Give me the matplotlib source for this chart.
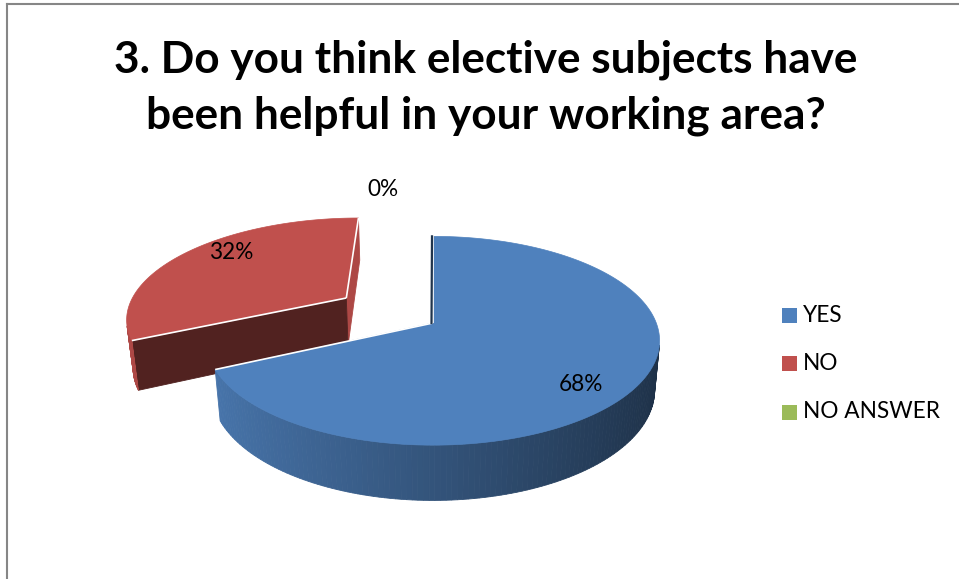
import numpy as np
import matplotlib
matplotlib.use('Agg')
import matplotlib.pyplot as plt
from matplotlib.patches import Polygon, Rectangle
from matplotlib.colors import to_rgb

W, H = 959, 579

labels = ['YES', 'NO', 'NO ANSWER']
values = [68, 32, 0]
colors = ['#4F81BD', '#C0504D', '#9BBB59']
explode = [0.0, 0.48, 0.0]
title_lines = ['3. Do you think elective subjects have',
               'been helpful in your working area?']

# simple perspective camera for the 3-D pie (pixel space)
CX, CY = 433, 323
ELEV = np.radians(27)
DIST = 5.24
FOCAL = 1170
THICK = 0.25
se, ce = np.sin(ELEV), np.cos(ELEV)
CAM = np.array([0.0, -DIST * ce, DIST * se])


def proj(X, Y, z):
    den = DIST + Y * ce - z * se
    return CX + FOCAL * X / den, CY - FOCAL * (Y * se + z * ce) / den


def depth(X, Y, z):
    return DIST + Y * ce - z * se


def visible(p, n):
    return np.dot(CAM - np.asarray(p), np.asarray(n)) > 0


def shade(c, f):
    r, g, b = to_rgb(c)
    return (min(r * f, 1), min(g * f, 1), min(b * f, 1))


fig = plt.figure(figsize=(W / 100, H / 100), dpi=100)
ax = fig.add_axes([0, 0, 1, 1])
ax.set_xlim(0, W)
ax.set_ylim(H, 0)
ax.axis('off')

total = sum(values)
starts = 90 - 360 * np.concatenate([[0], np.cumsum(values)[:-1]]) / total
ends = starts - 360 * np.array(values) / total
mids = np.radians((starts + ends) / 2)

# back slices first
order = sorted(range(len(values)),
               key=lambda i: -(0.5 + explode[i]) * np.sin(mids[i]))

for i in order:
    if values[i] == 0:
        continue
    c = colors[i]
    ox = explode[i] * np.cos(mids[i])
    oy = explode[i] * np.sin(mids[i])
    t = np.radians(np.linspace(starts[i], ends[i], 200))
    X = ox + np.cos(t)
    Y = oy + np.sin(t)

    faces = []
    # outer rim
    for j in range(len(t) - 1):
        tm = (t[j] + t[j + 1]) / 2
        P = (ox + np.cos(tm), oy + np.sin(tm), -THICK / 2)
        if not visible(P, (np.cos(tm), np.sin(tm), 0)):
            continue
        quad = [proj(X[j], Y[j], 0), proj(X[j + 1], Y[j + 1], 0),
                proj(X[j + 1], Y[j + 1], -THICK), proj(X[j], Y[j], -THICK)]
        f = np.clip(0.65 - 0.278 * np.cos(tm), 0.38, 0.95)
        faces.append((depth(*P), quad, shade(c, f)))

    # radial cut faces
    for a, n in ((t[0], (-np.sin(t[0]), np.cos(t[0]), 0)),
                 (t[-1], (np.sin(t[-1]), -np.cos(t[-1]), 0))):
        P = (ox + 0.5 * np.cos(a), oy + 0.5 * np.sin(a), -THICK / 2)
        if not visible(P, n):
            continue
        ex, ey = ox + np.cos(a), oy + np.sin(a)
        quad = [proj(ox, oy, 0), proj(ex, ey, 0),
                proj(ex, ey, -THICK), proj(ox, oy, -THICK)]
        f = 0.42 if n[1] < -0.3 else 0.9
        faces.append((depth(*P), quad, shade(c, f)))

    for _, quad, fc in sorted(faces, key=lambda q: -q[0]):
        ax.add_patch(Polygon(quad, closed=True, facecolor=fc,
                             edgecolor=fc, lw=0.6))

    top = [proj(ox, oy, 0)] + [proj(x, y, 0) for x, y in zip(X, Y)]
    ax.add_patch(Polygon(top, closed=True, facecolor=c, edgecolor=c, lw=0.5))
    # light seam along the cut edges of the top
    for a in (t[0], t[-1]):
        p0 = proj(ox, oy, 0)
        p1 = proj(ox + np.cos(a), oy + np.sin(a), 0)
        ax.plot([p0[0], p1[0]], [p0[1], p1[1]], color='white', lw=1.2,
                solid_capstyle='butt')

# thin dark edge of the 12 o'clock cut on the main slice
p0, p1 = proj(0, 0, 0), proj(0, 1, 0)
ax.plot([p0[0] - 1.5, p1[0] - 1], [p0[1], p1[1]], color=shade(colors[0], 0.4),
        lw=1.6)

# data labels
lab_pos = {0: (0.74, -0.35 * THICK), 1: (0.70, 0.07)}
for i, v in enumerate(values):
    if i in lab_pos:
        rho, z = lab_pos[i]
        r = rho + explode[i]
        x, y = proj(r * np.cos(mids[i]), r * np.sin(mids[i]), z)
    else:
        x, y = proj(0, 1, 0)
        x, y = x - 50, y - 47
    ax.text(x, y, f'{v}%', ha='center', va='center', fontsize=16.3,
            family='Lato', color='black')

# legend
for k, lab in enumerate(labels):
    yc = 315 + 48.5 * k
    ax.add_patch(Rectangle((782, yc - 7.5), 15, 15, facecolor=colors[k],
                           edgecolor='none'))
    ax.text(803, yc, lab, ha='left', va='center', fontsize=16.3,
            family='Lato', color='black')

# title, sized to the width of its first line
probe = ax.text(0, 0, title_lines[0], family='Lato', fontweight='bold',
                fontsize=30)
fig.canvas.draw()
w = probe.get_window_extent().width
probe.remove()
tsize = 30 * 742 / w
for line, base in zip(title_lines, (72, 129)):
    ax.text(486, base, line, ha='center', va='baseline', family='Lato',
            fontweight='bold', fontsize=tsize)

# chart frame
ax.plot([7, 7], [4, H], color='#868686', lw=1.5)
ax.plot([7, W], [4, 4], color='#868686', lw=1.5)

fig.savefig('out.png', dpi=100)
